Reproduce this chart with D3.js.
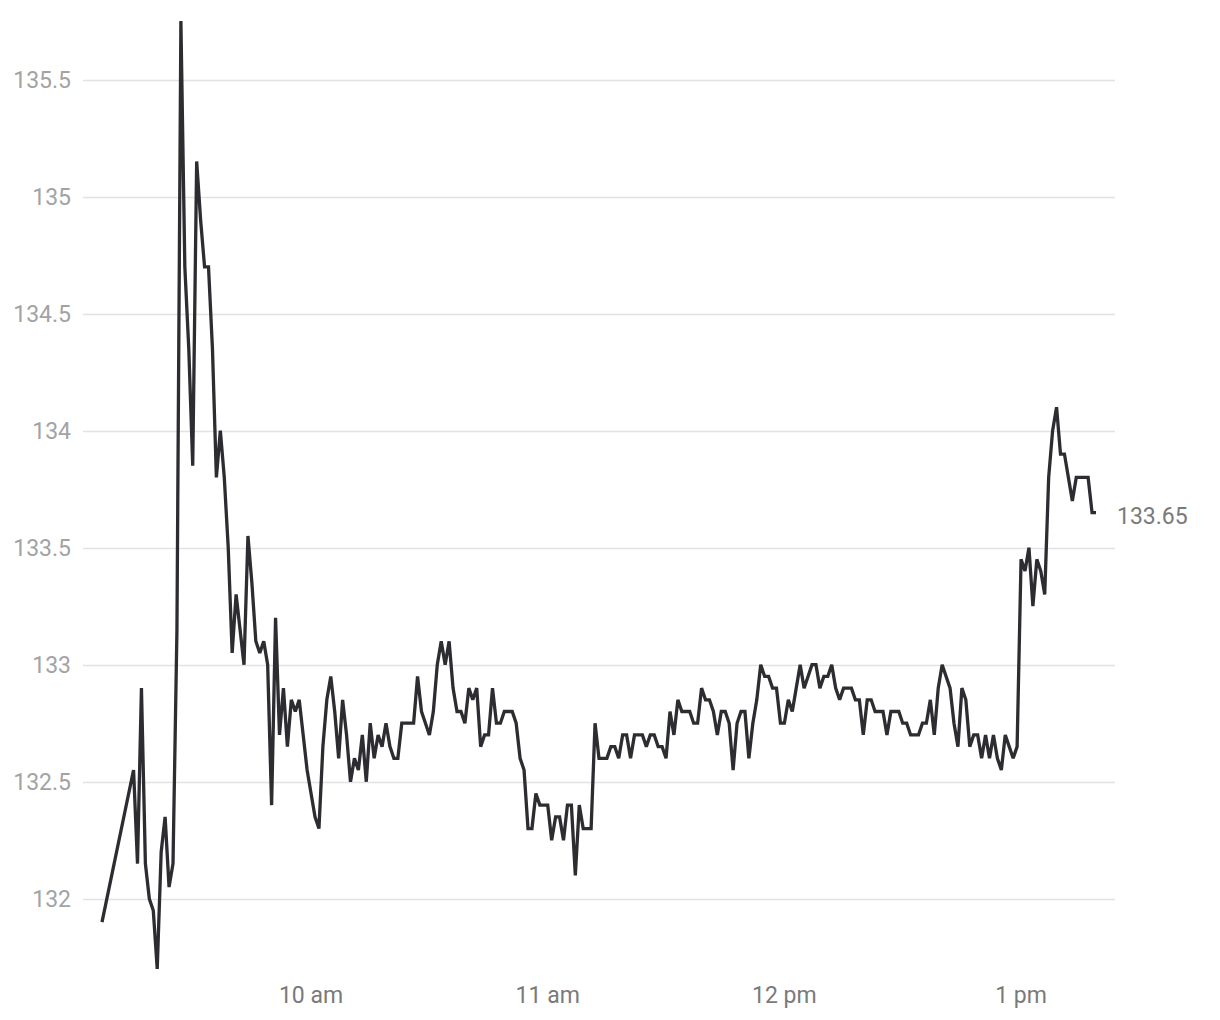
<!DOCTYPE html>
<html>
<head>
<meta charset="utf-8">
<script src="https://cdn.jsdelivr.net/npm/d3@7"></script>
<style>
  html, body { margin: 0; padding: 0; background: #ffffff; }
  svg { display: block; font-family: Roboto, "Noto Sans", sans-serif; }
</style>
</head>
<body>
<svg id="chart" width="1220" height="1020"></svg>
<script>
// ---- data ----
const times = [
  "9:07",
  "9:15","9:16","9:17","9:18","9:19","9:20","9:21","9:22","9:23","9:24",
  "9:25","9:26","9:27","9:28","9:29","9:30","9:31","9:32","9:33","9:34",
  "9:35","9:36","9:37","9:38","9:39","9:40","9:41","9:42","9:43","9:44",
  "9:45","9:46","9:47","9:48","9:49","9:50","9:51","9:52","9:53","9:54",
  "9:55","9:56","9:57","9:58","9:59","10:00","10:01","10:02","10:03","10:04",
  "10:05","10:06","10:07","10:08","10:09","10:10","10:11","10:12","10:13","10:14",
  "10:15","10:16","10:17","10:18","10:19","10:20","10:21","10:22","10:23","10:24",
  "10:25","10:26","10:27","10:28","10:29","10:30","10:31","10:32","10:33","10:34",
  "10:35","10:36","10:37","10:38","10:39","10:40","10:41","10:42","10:43","10:44",
  "10:45","10:46","10:47","10:48","10:49","10:50","10:51","10:52","10:53","10:54",
  "10:55","10:56","10:57","10:58","10:59","11:00","11:01","11:02","11:03","11:04",
  "11:05","11:06","11:07","11:08","11:09","11:10","11:11","11:12","11:13","11:14",
  "11:15","11:16","11:17","11:18","11:19","11:20","11:21","11:22","11:23","11:24",
  "11:25","11:26","11:27","11:28","11:29","11:30","11:31","11:32","11:33","11:34",
  "11:35","11:36","11:37","11:38","11:39","11:40","11:41","11:42","11:43","11:44",
  "11:45","11:46","11:47","11:48","11:49","11:50","11:51","11:52","11:53","11:54",
  "11:55","11:56","11:57","11:58","11:59","12:00","12:01","12:02","12:03","12:04",
  "12:05","12:06","12:07","12:08","12:09","12:10","12:11","12:12","12:13","12:14",
  "12:15","12:16","12:17","12:18","12:19","12:20","12:21","12:22","12:23","12:24",
  "12:25","12:26","12:27","12:28","12:29","12:30","12:31","12:32","12:33","12:34",
  "12:35","12:36","12:37","12:38","12:39","12:40","12:41","12:42","12:43","12:44",
  "12:45","12:46","12:47","12:48","12:49","12:50","12:51","12:52","12:53","12:54",
  "12:55","12:56","12:57","12:58","12:59","13:00","13:01","13:02","13:03","13:04",
  "13:05","13:06","13:07","13:08","13:09","13:10","13:11","13:12","13:13","13:14",
  "13:15","13:16","13:17","13:18","13:19"
];
const prices = [
  131.9,
  132.55,132.15,132.9,132.15,132.0,131.95,131.7,132.2,132.35,132.05,
  132.15,133.15,135.75,134.7,134.35,133.85,135.15,134.9,134.7,134.7,
  134.35,133.8,134.0,133.8,133.5,133.05,133.3,133.15,133.0,133.55,
  133.35,133.1,133.05,133.1,133.0,132.4,133.2,132.7,132.9,132.65,
  132.85,132.8,132.85,132.7,132.55,132.45,132.35,132.3,132.65,132.85,
  132.95,132.8,132.6,132.85,132.7,132.5,132.6,132.55,132.7,132.5,
  132.75,132.6,132.7,132.65,132.75,132.65,132.6,132.6,132.75,132.75,
  132.75,132.75,132.95,132.8,132.75,132.7,132.8,133.0,133.1,133.0,
  133.1,132.9,132.8,132.8,132.75,132.9,132.85,132.9,132.65,132.7,
  132.7,132.9,132.75,132.75,132.8,132.8,132.8,132.75,132.6,132.55,
  132.3,132.3,132.45,132.4,132.4,132.4,132.25,132.35,132.35,132.25,
  132.4,132.4,132.1,132.4,132.3,132.3,132.3,132.75,132.6,132.6,
  132.6,132.65,132.65,132.6,132.7,132.7,132.6,132.7,132.7,132.7,
  132.65,132.7,132.7,132.65,132.65,132.6,132.8,132.7,132.85,132.8,
  132.8,132.8,132.75,132.75,132.9,132.85,132.85,132.8,132.7,132.8,
  132.8,132.75,132.55,132.75,132.8,132.8,132.6,132.75,132.85,133.0,
  132.95,132.95,132.9,132.9,132.75,132.75,132.85,132.8,132.9,133.0,
  132.9,132.95,133.0,133.0,132.9,132.95,132.95,133.0,132.9,132.85,
  132.9,132.9,132.9,132.85,132.85,132.7,132.85,132.85,132.8,132.8,
  132.8,132.7,132.8,132.8,132.8,132.75,132.75,132.7,132.7,132.7,
  132.75,132.75,132.85,132.7,132.9,133.0,132.95,132.9,132.75,132.65,
  132.9,132.85,132.65,132.7,132.7,132.6,132.7,132.6,132.7,132.6,
  132.55,132.7,132.65,132.6,132.65,133.45,133.4,133.5,133.25,133.45,
  133.4,133.3,133.8,134.0,134.1,133.9,133.9,133.8,133.7,133.8,
  133.8,133.8,133.8,133.65,133.65
];
const yTicks = [132, 132.5, 133, 133.5, 134, 134.5, 135, 135.5];
const xTickTimes = ["10:00", "11:00", "12:00", "13:00"];
const xTickLabels = ["10 am", "11 am", "12 pm", "1 pm"];

// ---- chart ----
const parse = d3.timeParse("%H:%M");
const data = times.map((t, i) => ({ t: parse(t), v: prices[i] }));

const x = d3.scaleTime()
  .domain(d3.extent(data, d => d.t))
  .range([102, 1096]);
const y = d3.scaleLinear()
  .domain(d3.extent(data, d => d.v))
  .range([969, 21]);

const svg = d3.select("#chart");
const gridX0 = 83, gridX1 = 1115;

// gridlines
svg.append("g").selectAll("line")
  .data(yTicks).join("line")
  .attr("x1", gridX0).attr("x2", gridX1)
  .attr("y1", d => Math.round(y(d)) + 0.5)
  .attr("y2", d => Math.round(y(d)) + 0.5)
  .attr("stroke", "#e2e2e2")
  .attr("stroke-width", 1.3);

// y labels
svg.append("g").selectAll("text")
  .data(yTicks).join("text")
  .attr("x", 71)
  .attr("y", d => y(d))
  .attr("dy", "0.35em")
  .attr("text-anchor", "end")
  .attr("font-size", 23)
  .attr("fill", "#a3a3a3")
  .text(d => String(d));

// x labels
svg.append("g").selectAll("text")
  .data(xTickTimes).join("text")
  .attr("x", d => x(parse(d)))
  .attr("y", 1003)
  .attr("text-anchor", "middle")
  .attr("font-size", 23)
  .attr("fill", "#7a7a7a")
  .text((d, i) => xTickLabels[i]);

// line
const line = d3.line().x(d => x(d.t)).y(d => y(d.v));
svg.append("path")
  .datum(data)
  .attr("d", line)
  .attr("fill", "none")
  .attr("stroke", "#2c2c31")
  .attr("stroke-width", 3.3)
  .attr("stroke-linejoin", "miter")
  .attr("stroke-miterlimit", 2);

// last value label
const last = data[data.length - 1];
svg.append("text")
  .attr("x", x(last.t) + 21)
  .attr("y", y(last.v))
  .attr("dy", "0.48em")
  .attr("text-anchor", "start")
  .attr("font-size", 23)
  .attr("fill", "#7a7a7a")
  .text(d3.format(".2f")(last.v));
</script>
</body>
</html>
